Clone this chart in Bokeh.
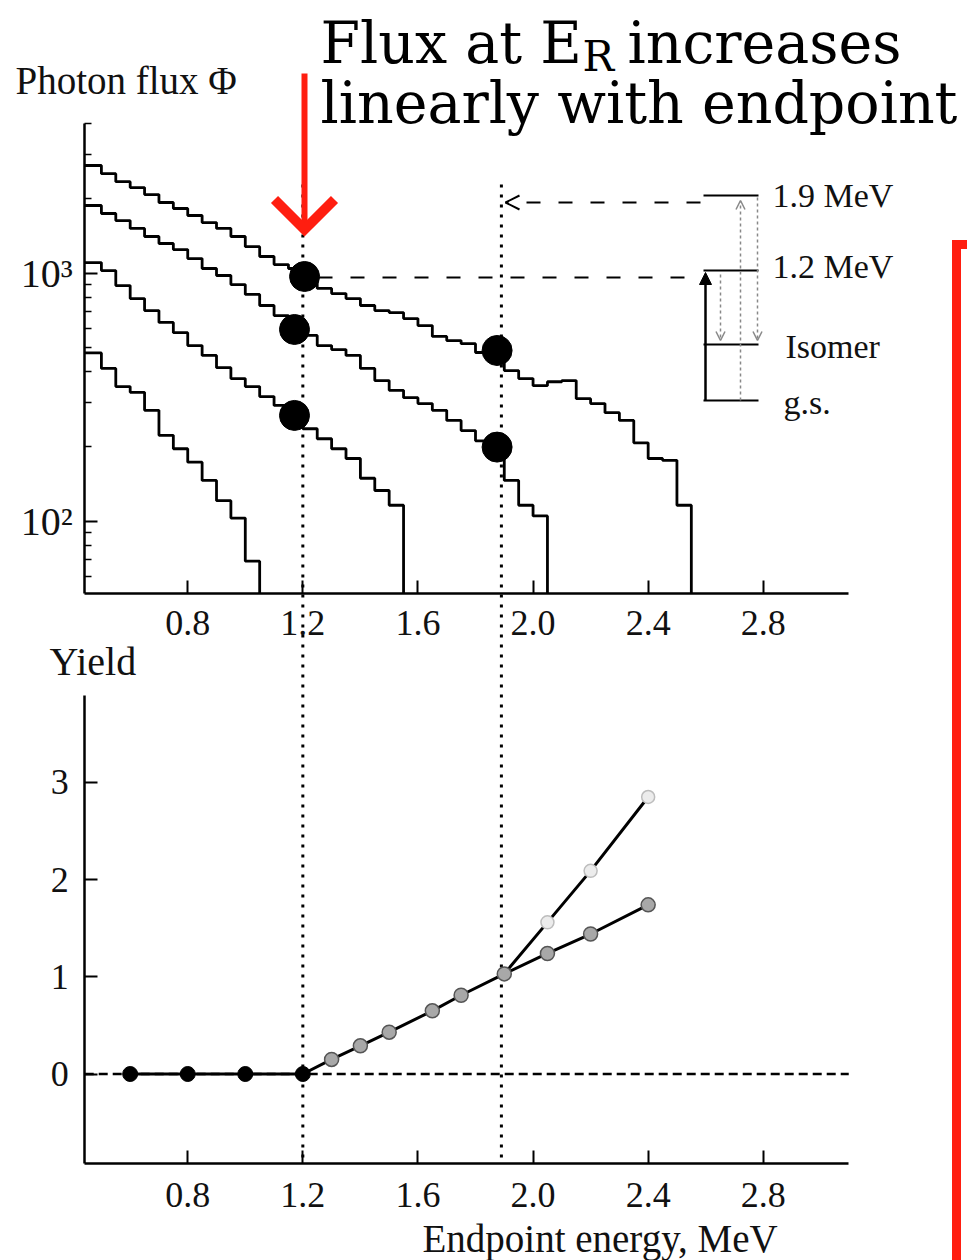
import numpy as np
from bokeh.plotting import figure
from bokeh.models import (Range1d, LogScale, LinearAxis, LogAxis, FixedTicker,
                          Label, Arrow, OpenHead, NormalHead)
from bokeh.embed import file_html
from bokeh.resources import INLINE

# ---------------- data ----------------
# photon flux spectra (histograms, 0.05 MeV bins; first bin starts at the axis)
HIST_START = 0.442
BIN_START = 0.45
BIN_WIDTH = 0.05
FLUX_255 = [2718, 2520, 2340, 2215, 2075, 1928, 1824, 1709, 1600, 1515, 1406, 1280,
            1168, 1084, 1045, 952, 868, 828, 790, 741, 707, 694, 656, 615, 556, 535,
            520, 479, 445, 405, 376, 352, 365, 369, 312, 298, 274, 255, 207, 179, 176, 116]
FLUX_205 = [1875, 1741, 1631, 1515, 1406, 1318, 1246, 1146, 1045, 979, 900, 821,
            741, 675, 604, 561, 511, 492, 466, 413, 369, 337, 315, 298, 280, 255,
            232, 211, 196, 146, 116, 105]
FLUX_155 = [1104, 1025, 892, 790, 707, 633, 576, 511, 466, 416, 376, 349, 318, 293,
            260, 236, 215, 196, 179, 149, 133, 116]
FLUX_105 = [477, 413, 349, 331, 280, 222, 196, 173, 146, 121, 103, 69]
FLUX_FLOOR = 51

# highlighted flux points
DOT_E = [1.206, 1.171, 1.171, 1.875, 1.875]
DOT_FLUX = [970, 593, 267, 488, 199]

# level energies (vertical dotted lines)
E_LINES = [1.2, 1.89]

# yield vs endpoint energy
ZERO_E = [0.6, 0.8, 1.0, 1.2]
ZERO_Y = [0, 0, 0, 0]
RISE_E = [1.2, 1.3, 1.4, 1.5, 1.65, 1.75, 1.9]
RISE_Y = [0, 0.15, 0.29, 0.43, 0.65, 0.81, 1.03]
LOW_E = [1.9, 2.05, 2.2, 2.4]
LOW_Y = [1.03, 1.24, 1.44, 1.74]
HIGH_E = [1.9, 2.05, 2.2, 2.4]
HIGH_Y = [1.03, 1.56, 2.09, 2.85]

# axes
X_TICKS = [0.8, 1.2, 1.6, 2.0, 2.4, 2.8]
X_TICK_LABELS = ["0.8", "1.2", "1.6", "2.0", "2.4", "2.8"]
FLUX_TICKS = [100, 1000]
FLUX_TICK_LABELS = ["10²", "10³"]
FLUX_MINOR = [60, 70, 80, 90, 200, 300, 400, 500, 600, 700, 800, 900, 2000, 3000, 4000]
YIELD_TICKS = [0, 1, 2, 3]
YIELD_TICK_LABELS = ["0", "1", "2", "3"]
X_BOUNDS = (0.442, 3.097)
FLUX_BOUNDS = (FLUX_FLOOR, 4000)
YIELD_BOUNDS = (-0.924, 3.894)

# level scheme labels
LEVEL_LABELS = ["1.9 MeV", "1.2 MeV", "Isomer", "g.s."]

# ---------------- figure ----------------
W, H = 967, 1260
RED = "#ff1e10"
SERIF = "Liberation Serif"
INK = "#111111"

p = figure(width=W, height=H, x_range=Range1d(0.14937, 3.50970),
           y_range=Range1d(-1.9187, 11.0442),
           x_axis_location=None, y_axis_location=None,
           toolbar_location=None, output_backend="svg", min_border=0)
p.extra_y_ranges = {"flux": Range1d(0.10446, 12580), "py": Range1d(H, 0)}
p.extra_y_scales = {"flux": LogScale()}
p.extra_x_ranges = {"px": Range1d(0, W)}
p.outline_line_color = None
p.grid.visible = False
p.background_fill_color = "white"
p.border_fill_color = "white"


def style_axis(ax, standoff, size="36px"):
    ax.axis_line_width = 2.5
    ax.axis_line_color = "black"
    ax.major_tick_in = 13
    ax.major_tick_out = 0
    ax.minor_tick_in = 7
    ax.minor_tick_out = 0
    ax.major_tick_line_width = 2
    ax.minor_tick_line_width = 1.5
    ax.major_tick_line_color = "black"
    ax.minor_tick_line_color = "black"
    ax.major_label_text_font = SERIF
    ax.major_label_text_font_size = size
    ax.major_label_text_color = INK
    ax.major_label_standoff = standoff


flux_axis = LogAxis(y_range_name="flux", fixed_location=X_BOUNDS[0], bounds=FLUX_BOUNDS,
                    ticker=FixedTicker(ticks=FLUX_TICKS, minor_ticks=FLUX_MINOR),
                    major_label_overrides=dict(zip(FLUX_TICKS, FLUX_TICK_LABELS)))
style_axis(flux_axis, 12, "40px")
p.add_layout(flux_axis, "left")

top_x = LinearAxis(y_range_name="flux", fixed_location=FLUX_FLOOR, bounds=X_BOUNDS,
                   ticker=FixedTicker(ticks=X_TICKS),
                   major_label_overrides=dict(zip(X_TICKS, X_TICK_LABELS)))
style_axis(top_x, 17)
p.add_layout(top_x, "below")

yield_axis = LinearAxis(fixed_location=X_BOUNDS[0], bounds=YIELD_BOUNDS,
                        ticker=FixedTicker(ticks=YIELD_TICKS),
                        major_label_overrides=dict(zip(YIELD_TICKS, YIELD_TICK_LABELS)))
style_axis(yield_axis, 16)
p.add_layout(yield_axis, "left")

bottom_x = LinearAxis(fixed_location=YIELD_BOUNDS[0], bounds=X_BOUNDS,
                      ticker=FixedTicker(ticks=X_TICKS),
                      major_label_overrides=dict(zip(X_TICKS, X_TICK_LABELS)))
style_axis(bottom_x, 19)
p.add_layout(bottom_x, "below")

# ---------------- top panel: flux histograms ----------------
for vals in (FLUX_255, FLUX_205, FLUX_155, FLUX_105):
    n = len(vals)
    edges = np.concatenate([[HIST_START], BIN_START + BIN_WIDTH * np.arange(1, n + 1)])
    ys = list(vals) + [FLUX_FLOOR]
    p.step(edges, ys, mode="after", y_range_name="flux", line_color="black",
           line_width=2.8)

# vertical dotted lines through both panels
p.segment(x0=E_LINES, y0=[184, 184], x1=E_LINES, y1=[1163, 1163], y_range_name="py",
          line_color="black", line_width=3, line_dash="3 7")

# dashed reference lines to the level scheme
p.line([318, 700], [277, 277], x_range_name="px", y_range_name="py",
       line_color="black", line_width=2, line_dash="14 18")
p.add_layout(Arrow(end=OpenHead(size=14, line_width=2, line_color="black"),
                   x_start=700, y_start=202, x_end=505, y_end=202,
                   x_range_name="px", y_range_name="py",
                   line_color="black", line_width=2, line_dash="14 18"))

# highlighted points
p.scatter(DOT_E, DOT_FLUX, y_range_name="flux", size=30, marker="circle",
          fill_color="black", line_color="black")

# ---------------- level scheme ----------------
lvl_y = [195, 270, 344, 400]
p.segment(x0=[703] * 4, y0=lvl_y, x1=[758] * 4, y1=lvl_y, x_range_name="px",
          y_range_name="py", line_color="black", line_width=2.2)
p.add_layout(Arrow(end=NormalHead(size=12, fill_color="black", line_color="black"),
                   x_start=705, y_start=400, x_end=705, y_end=272,
                   x_range_name="px", y_range_name="py", line_color="black", line_width=2.5))
p.add_layout(Arrow(end=OpenHead(size=9, line_width=1.5, line_color="#888888"),
                   x_start=740, y_start=400, x_end=740, y_end=200,
                   x_range_name="px", y_range_name="py",
                   line_color="#888888", line_width=1.5, line_dash="3 3"))
p.add_layout(Arrow(end=OpenHead(size=9, line_width=1.5, line_color="#888888"),
                   x_start=757, y_start=197, x_end=757, y_end=340,
                   x_range_name="px", y_range_name="py",
                   line_color="#888888", line_width=1.5, line_dash="3 3"))
p.add_layout(Arrow(end=OpenHead(size=9, line_width=1.5, line_color="#888888"),
                   x_start=720, y_start=274, x_end=720, y_end=340,
                   x_range_name="px", y_range_name="py",
                   line_color="#888888", line_width=1.5, line_dash="3 3"))
for txt, lx, ly in zip(LEVEL_LABELS, [772, 772, 785, 783], [195, 266, 346, 402]):
    p.add_layout(Label(x=lx, y=ly, text=txt, x_range_name="px", y_range_name="py",
                       text_font=SERIF, text_font_size="34px", text_baseline="middle",
                       text_color=INK))

# ---------------- bottom panel: yield ----------------
p.line(list(X_BOUNDS), [0, 0], line_color="black", line_width=2.5, line_dash="9 5")
p.line(ZERO_E, ZERO_Y, line_color="black", line_width=3)
p.line(RISE_E, RISE_Y, line_color="black", line_width=3)
p.line(LOW_E, LOW_Y, line_color="black", line_width=3)
p.line(HIGH_E, HIGH_Y, line_color="black", line_width=3)
p.scatter(ZERO_E, ZERO_Y, size=15, marker="circle", fill_color="black", line_color="black")
p.scatter(HIGH_E[1:], HIGH_Y[1:], size=13, marker="circle", fill_color="#ececec",
          line_color="#bdbdbd", line_width=1.5)
p.scatter(RISE_E[1:] + LOW_E[1:], RISE_Y[1:] + LOW_Y[1:], size=14, marker="circle",
          fill_color="#a8a8a8", line_color="#555555", line_width=1.5)

# ---------------- texts ----------------
def label(x, y, text, size, font=SERIF, align="left", color=INK):
    p.add_layout(Label(x=x, y=y, text=text, x_range_name="px", y_range_name="py",
                       text_font=font, text_font_size=size, text_align=align,
                       text_baseline="middle", text_color=color))


label(15, 80, "Photon flux Φ", "39px")
label(49, 661, "Yield", "40px")
label(422, 1238, "Endpoint energy, MeV", "39px")

TITLE_FONT = "DejaVu Serif"
label(320, 42, "Flux at E", "57px", font=TITLE_FONT, color="black")
label(582, 56, "R", "42px", font=TITLE_FONT, color="black")
label(627, 42, "increases", "57px", font=TITLE_FONT, color="black")
label(320, 102, "linearly with endpoint", "57px", font=TITLE_FONT, color="black")

# red arrow and bracket
p.line([304, 304], [73, 224], x_range_name="px", y_range_name="py",
       line_color=RED, line_width=6)
p.line([274, 304, 334], [199, 229, 199], x_range_name="px", y_range_name="py",
       line_color=RED, line_width=10, line_join="miter")
p.line([W, 956, 956], [244, 244, H], x_range_name="px", y_range_name="py",
       line_color=RED, line_width=9, line_join="miter")

open("out.html", "w").write(file_html(p, INLINE))
